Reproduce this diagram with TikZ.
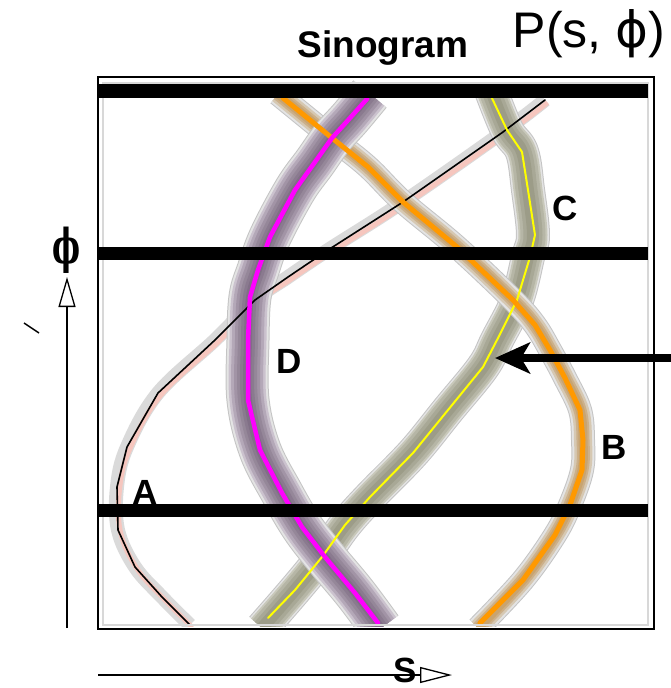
\documentclass[tikz,border=0pt]{standalone}
\usepackage{fontspec}
\usepackage{graphicx}
\setmainfont{Liberation Sans}
\newfontfamily\phiserif{DejaVu Serif}
\newfontfamily\phisans{DejaVu Sans}
\usetikzlibrary{arrows.meta}
\definecolor{magline}{HTML}{FF00FF}
\definecolor{orline}{HTML}{FF9900}
\definecolor{yelline}{HTML}{FFFF00}
\definecolor{hlOut}{HTML}{C4C4C4}
\definecolor{hlIn}{HTML}{E4E4E4}
\definecolor{magHa}{HTML}{CBC2CE}
\definecolor{magHb}{HTML}{B4A8B8}
\definecolor{magHc}{HTML}{A294A6}
\definecolor{magHd}{HTML}{958799}
\definecolor{magHe}{HTML}{8A7A8F}
\definecolor{magHf}{HTML}{806F86}
\definecolor{yelHa}{HTML}{C8C8BA}
\definecolor{yelHb}{HTML}{B6B6A6}
\definecolor{yelHc}{HTML}{A8A896}
\definecolor{yelHd}{HTML}{9C9C88}
\definecolor{orHa}{HTML}{D6C8B2}
\definecolor{orHb}{HTML}{CCB08A}
\definecolor{orHc}{HTML}{C8A470}
\definecolor{blkHa}{HTML}{DADADA}
\definecolor{pinkglow}{HTML}{F6C6BE}
\definecolor{framegray}{HTML}{D8D8D8}
\begin{document}
\begin{tikzpicture}[x=1pt,y=-1pt,
  lbl/.style={font=\fontsize{35}{35}\selectfont\bfseries, inner sep=0pt},
  bar/.style={line width=13.5pt, black},
  curveline/.style={line join=round, line cap=round}]
\useasboundingbox (0,0) rectangle (671,688);

% ---------- halos ----------
\begin{scope}
\clip (99,78) rectangle (653,626);
% black curve halo
\draw[line width=14pt, blkHa, line join=round] plot[smooth, tension=0.6] coordinates {(545,100) (503,132) (403,202) (328,250) (288,277) (255,300) (215,340) (158,393) (127,447) (117,487) (118,530) (135,567) (162,597) (190,625)};
\draw[line width=5pt, pinkglow, line join=round, shift={(2.5,2.5)}] plot[smooth, tension=0.6] coordinates {(545,100) (503,132) (403,202) (328,250) (288,277) (255,300) (215,340) (158,393) (127,447) (117,487) (118,530) (135,567) (162,597) (190,625)};
% yellow curve halo
\foreach \w/\c in {34/hlOut, 32/hlIn, 29/yelHa, 25/yelHb, 19/yelHc, 12/yelHd}
  \draw[line width=\w pt, \c, line join=round] plot[smooth, tension=0.6] coordinates {(490,88) (507,130) (522,152) (528,190) (533,235) (528,257) (517,300) (497,340) (483,367) (448,410) (413,453) (370,497) (345,525) (322,557) (295,590) (262,628)};
% orange curve halo
\foreach \w/\c in {24/hlOut, 22/hlIn, 18/orHa, 13/orHb, 9/orHc}
  \draw[line width=\w pt, \c, line join=round] plot[smooth, tension=0.6] coordinates {(278,94) (332,138) (368,167) (403,202) (457,247) (513,300) (535,325) (550,350) (565,378) (580,410) (583,440) (582,470) (570,505) (555,535) (523,580) (478,628)};
% magenta curve halo
\foreach \w/\c in {43/hlOut, 41/hlIn, 37/magHa, 32/magHb, 26/magHc, 20/magHd, 14/magHe, 8/magHf}
  \draw[line width=\w pt, \c, line join=round] plot[smooth, tension=0.6] coordinates {(370,94) (350,118) (332,138) (315,162) (295,190) (270,237) (258,270) (250,297) (248,340) (248,400) (260,450) (282,493) (302,527) (325,557) (355,593) (381,628)};
\end{scope}

% ---------- lines ----------
\draw[curveline, line width=1.6pt, black] plot coordinates {(545,100) (503,132) (403,202) (328,250) (288,277) (255,300) (215,340) (158,393) (127,447) (117,487) (118,530) (135,567) (162,597) (190,625)};
\draw[curveline, line width=2pt, yelline] plot coordinates {(490,94) (507,130) (522,152) (528,190) (535,235) (530,257) (517,300) (497,340) (483,367) (448,410) (413,453) (370,497) (345,525) (322,557) (295,590) (268,618)};
\draw[curveline, line width=5pt, orline] plot coordinates {(283,98) (332,138) (368,167) (403,202) (457,247) (513,300) (535,325) (550,350) (565,378) (580,410) (583,440) (582,470) (570,505) (555,535) (523,580) (480,623)};
\draw[curveline, line width=4.5pt, magline] plot coordinates {(367,99) (350,118) (332,138) (315,162) (295,190) (270,237) (258,270) (250,297) (248,340) (248,400) (260,450) (282,493) (302,527) (325,557) (355,593) (378,623)};

% ---------- frame (inner) ----------
\draw[line width=2pt, framegray] (102.5,83) rectangle (648,625);

% ---------- bars ----------
\coordinate (b1l) at (98,91);  \coordinate (b1r) at (648,91);
\coordinate (b2l) at (98,253.5); \coordinate (b2r) at (648,253.5);
\coordinate (b3l) at (98,510.5); \coordinate (b3r) at (648,510.5);
\draw[bar] (b1l) -- (b1r);
\draw[bar] (b2l) -- (b2r);
\draw[bar] (b3l) -- (b3r);

% ---------- frame (outer) ----------
\draw[line width=1.8pt, black] (98,77) rectangle (654,629);

% ---------- labels ----------
\node[lbl, anchor=base] (title) at (383,57) {\fontsize{37}{37}\selectfont Sinogram};
\node[inner sep=0pt, anchor=base, font=\fontsize{50}{50}\selectfont] (ptitle) at (589,47) {P(s, {\phisans ϕ})};
\node[lbl] (labC) at (565,208) {C};
\node[lbl] (labD) at (289,361) {D};
\node[lbl] (labB) at (614,447) {B};
\node[lbl] (labA) at (145,492) {A};

% ---------- axes ----------
\node[inner sep=0pt, font=\fontsize{48}{48}\selectfont\phiserif\bfseries] (phiLbl) at (67,250) {\scalebox{0.62}[1]{ϕ}};
\coordinate (phiStart) at (67,628);
\coordinate (phiEnd) at (67,277);
\draw[line width=1.3pt, -{Triangle[open, length=30pt, width=17pt]}] (phiStart) -- (phiEnd);
\coordinate (tickA) at (24,323);
\coordinate (tickB) at (39,333);
\draw[line width=1.4pt] (tickA) -- (tickB);

\coordinate (sStart) at (98,675);
\coordinate (sEnd) at (452,675);
\draw[line width=1.3pt, -{Triangle[open, length=32pt, width=16pt]}] (sStart) -- (sEnd);
\node[lbl, anchor=base, font=\fontsize{35}{35}\selectfont\bfseries] (sLbl) at (405,682) {S};

% ---------- pointer arrow ----------
\coordinate (arrStart) at (671,358);
\coordinate (arrEnd) at (495,358);
\draw[line width=8pt, -{Stealth[length=35pt, width=31pt, inset=9pt]}] (arrStart) -- (arrEnd);
\end{tikzpicture}
\end{document}
